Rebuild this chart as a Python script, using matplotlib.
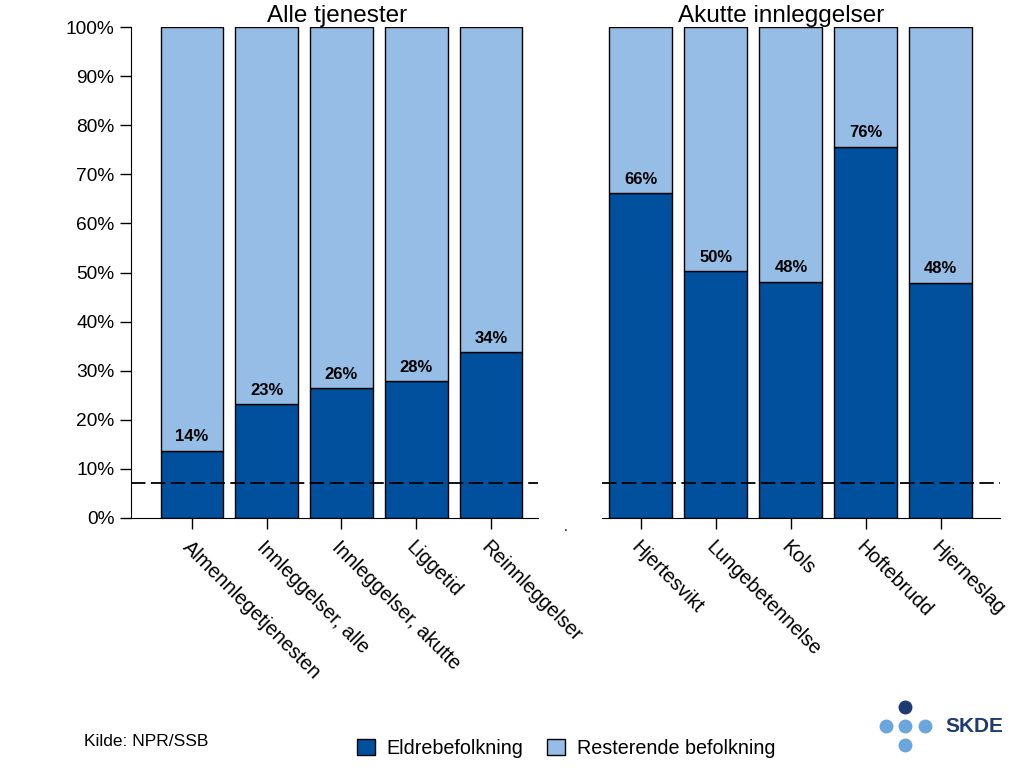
import matplotlib.pyplot as plt
from matplotlib.lines import Line2D
from matplotlib.patches import Patch

plt.rcParams['font.family'] = ['Liberation Sans', 'DejaVu Sans']

# data
left_title = 'Alle tjenester'
right_title = 'Akutte innleggelser'
left_cats = ['Almennlegetjenesten', 'Innleggelser, alle', 'Innleggelser, akutte',
             'Liggetid', 'Reinnleggelser']
right_cats = ['Hjertesvikt', 'Lungebetennelse', 'Kols', 'Hoftebrudd', 'Hjerneslag']
left_vals = [13.7, 23.2, 26.4, 27.9, 33.8]
right_vals = [66.2, 50.3, 48.1, 75.6, 47.9]
ref_line = 7.1
yticks = list(range(0, 101, 10))

dark = '#00509E'
light = '#95BDE6'

fig = plt.figure(figsize=(10.24, 7.68), dpi=100)
ax1 = fig.add_axes([131/1024, 1-518/768, 407/1024, 491/768])
ax2 = fig.add_axes([602/1024, 1-518/768, 398/1024, 491/768], sharey=ax1)


def draw(ax, cats, vals, title, xlim, title_x):
    x = range(len(cats))
    rest = [100 - v for v in vals]
    ax.bar(x, vals, width=0.84, color=dark, edgecolor='black', linewidth=1, zorder=2)
    ax.bar(x, rest, bottom=vals, width=0.84, color=light, edgecolor='black',
           linewidth=1, zorder=2)
    for xi, v in zip(x, vals):
        ax.text(xi, v + 1.3, f'{round(v)}%', ha='center', va='bottom',
                fontsize=12, fontweight='bold')
    ax.axhline(ref_line, color='black', lw=1.3, ls=(0, (8, 3)), zorder=3)
    ax.set_xlim(*xlim)
    ax.set_ylim(0, 100)
    ax.set_xticks(list(x))
    ax.set_xticklabels(cats, rotation=-45, ha='left', va='top',
                       rotation_mode='anchor', fontsize=14.3)
    ax.tick_params(axis='x', length=8, width=1, pad=6)
    ax.set_title(title, fontsize=17.5, pad=1, x=title_x)
    for s in ['top', 'right']:
        ax.spines[s].set_visible(False)


draw(ax1, left_cats, left_vals, left_title, (-0.816, 4.63), 0.507)
draw(ax2, right_cats, right_vals, right_title, (-0.52, 4.79), 0.45)

ax1.set_yticks(yticks)
ax1.set_yticklabels([f'{t}%' for t in yticks], fontsize=13.8)
ax1.tick_params(axis='y', length=8, width=1, pad=4)
ax2.spines['left'].set_visible(False)
ax2.tick_params(axis='y', left=False, labelleft=False)

fig.text(566/1024, 1-527/768, '.', ha='center', va='center', fontsize=10)

handles = [Patch(facecolor=dark, edgecolor='black', label='Eldrebefolkning'),
           Patch(facecolor=light, edgecolor='black', label='Resterende befolkning')]
fig.legend(handles=handles, loc='center', bbox_to_anchor=(566/1024, 1-748/768),
           ncol=2, frameon=False, fontsize=14.2, handlelength=0.9,
           handleheight=0.9, handletextpad=0.6, columnspacing=1.2)

fig.text(84/1024, 1-742/768, 'Kilde: NPR/SSB', ha='left', va='center', fontsize=12.5)

# SKDE logo
fig.add_artist(Line2D([905/1024], [1-707/768], marker='o', ls='none', ms=9,
                      color='#1F3B73', transform=fig.transFigure))
fig.add_artist(Line2D([886/1024, 905/1024, 925/1024, 905/1024],
                      [1-726/768, 1-726/768, 1-726/768, 1-745/768],
                      marker='o', ls='none', ms=9, color='#6AA6DC',
                      transform=fig.transFigure))
fig.text(945/1024, 1-726/768, 'SKDE', ha='left', va='center', fontsize=15,
         fontweight='bold', color='#1F3B73')

fig.savefig('out.png', dpi=100)
